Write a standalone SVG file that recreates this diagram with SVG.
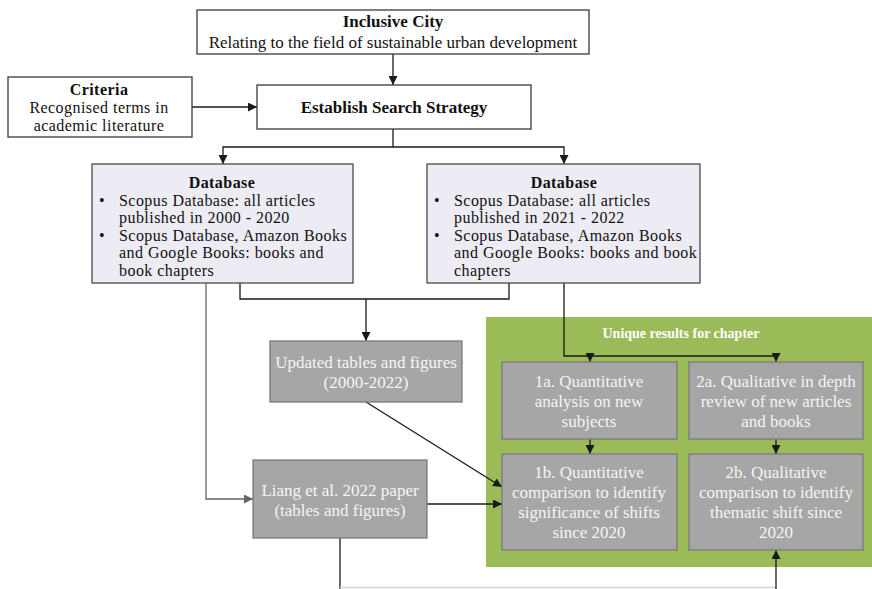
<svg xmlns="http://www.w3.org/2000/svg" width="872" height="589" viewBox="0 0 872 589">
<defs>
<marker id="ah" markerUnits="userSpaceOnUse" markerWidth="10" markerHeight="9" refX="9" refY="4.5" orient="auto"><path d="M0,0 L9,4.5 L0,9 z" fill="#1a1a1a"/></marker>
<marker id="ahg" markerUnits="userSpaceOnUse" markerWidth="10" markerHeight="9" refX="9" refY="4.5" orient="auto"><path d="M0,0 L9,4.5 L0,9 z" fill="#666"/></marker>
<style>
text{font-family:"Liberation Serif","Times New Roman",serif;}
.w{fill:#fff;stroke:#3a3a3a;stroke-width:1.3;}
.db{fill:#EDEBF3;stroke:#4a4a4a;stroke-width:1.3;}
.g{fill:#A6A6A6;stroke:#7a7a7a;stroke-width:1.3;}
.t{font-size:16px;fill:#111;letter-spacing:0.45px;}
.h{font-size:17px;letter-spacing:0;}
.b{font-weight:bold;}
.c{text-anchor:middle;}
.gt{font-size:17px;fill:#F5F5F5;text-anchor:middle;}
.ln{fill:none;stroke:#1a1a1a;stroke-width:1.3;}
.lg{fill:none;stroke:#666;stroke-width:1.3;}
</style>
</defs>
<rect x="0" y="0" width="872" height="589" fill="#fff"/>
<rect id="green" x="486" y="317" width="386" height="250" fill="#9BBB59"/>
<text x="681" y="338" class="b c" style="font-size:14px;fill:#fff">Unique results for chapter</text>

<g id="connectors">
<path class="ln" d="M393,54 V85" marker-end="url(#ah)"/>
<path class="ln" d="M192,107 H257" marker-end="url(#ah)"/>
<path class="ln" d="M393,129 V147 H223 V164"  marker-end="url(#ah)"/>
<path class="ln" d="M393,147 H564 V164" marker-end="url(#ah)"/>
<path class="lg" d="M206,283 V499 H253" marker-end="url(#ahg)"/>
<path class="ln" d="M240,283 V299 H509 V283"/>
<path class="ln" d="M366,299 V341" marker-end="url(#ah)"/>
<path class="ln" d="M564,283 V356 H590 V362" marker-end="url(#ah)"/>
<path class="ln" d="M590,356 H776 V362" marker-end="url(#ah)"/>
<path class="ln" d="M590,439 V454" marker-end="url(#ah)"/>
<path class="ln" d="M776,439 V454" marker-end="url(#ah)"/>
<path class="ln" d="M366,402 L502,487" marker-end="url(#ah)"/>
<path class="ln" d="M427,504 H502" marker-end="url(#ah)"/>
<path class="ln" d="M340,538 V589"/>
<path fill="none" stroke="#d4d4d4" stroke-width="1.5" d="M340,587.5 H776"/>
<path class="ln" d="M776,589 V550" marker-end="url(#ah)"/>
</g>

<g id="inclusive">
<rect class="w" x="197" y="10" width="392" height="44"/>
<text x="393" y="27" class="t h b c">Inclusive City</text>
<text x="393" y="48" class="t h c">Relating to the field of sustainable urban development</text>
</g>

<g id="criteria">
<rect class="w" x="8" y="77" width="184" height="60"/>
<text x="99" y="95" class="t b c">Criteria</text>
<text x="99" y="113" class="t c">Recognised terms in</text>
<text x="99" y="131" class="t c">academic literature</text>
</g>

<g id="establish">
<rect class="w" x="257" y="85" width="274" height="44"/>
<text x="394" y="113" class="t h b c">Establish Search Strategy</text>
</g>

<g id="db1">
<rect class="db" x="92" y="164" width="261" height="119"/>
<text x="222" y="188" class="t b c">Database</text>
<text x="102" y="205.6" class="t c">•</text>
<text x="119" y="205.6" class="t">Scopus Database: all articles</text>
<text x="119" y="223.2" class="t">published in 2000 - 2020</text>
<text x="102" y="240.8" class="t c">•</text>
<text x="119" y="240.8" class="t">Scopus Database, Amazon Books</text>
<text x="119" y="258.4" class="t">and Google Books: books and</text>
<text x="119" y="276" class="t">book chapters</text>
</g>

<g id="db2">
<rect class="db" x="427" y="164" width="273" height="119"/>
<text x="564" y="188" class="t b c">Database</text>
<text x="437" y="205.6" class="t c">•</text>
<text x="454" y="205.6" class="t">Scopus Database: all articles</text>
<text x="454" y="223.2" class="t">published in 2021 - 2022</text>
<text x="437" y="240.8" class="t c">•</text>
<text x="454" y="240.8" class="t">Scopus Database, Amazon Books</text>
<text x="454" y="258.4" class="t">and Google Books: books and book</text>
<text x="454" y="276" class="t">chapters</text>
</g>

<g id="updated">
<rect class="g" x="270" y="341" width="192" height="61"/>
<text x="366" y="368" class="gt">Updated tables and figures</text>
<text x="366" y="388" class="gt">(2000-2022)</text>
</g>

<g id="liang">
<rect class="g" x="253" y="460" width="174" height="78"/>
<text x="340" y="496" class="gt">Liang et al. 2022 paper</text>
<text x="340" y="516" class="gt">(tables and figures)</text>
</g>

<g id="n1a">
<rect class="g" x="502" y="362" width="175" height="77"/>
<text x="589" y="387" class="gt">1a. Quantitative</text>
<text x="589" y="407" class="gt">analysis on new</text>
<text x="589" y="427" class="gt">subjects</text>
</g>

<g id="n2a">
<rect class="g" x="689" y="362" width="174" height="77"/>
<text x="776" y="387" class="gt">2a. Qualitative in depth</text>
<text x="776" y="407" class="gt">review of new articles</text>
<text x="776" y="427" class="gt">and books</text>
</g>

<g id="n1b">
<rect class="g" x="502" y="454" width="175" height="96"/>
<text x="589" y="478" class="gt">1b. Quantitative</text>
<text x="589" y="498" class="gt">comparison to identify</text>
<text x="589" y="518" class="gt">significance of shifts</text>
<text x="589" y="538" class="gt">since 2020</text>
</g>

<g id="n2b">
<rect class="g" x="689" y="454" width="174" height="96"/>
<text x="776" y="478" class="gt">2b. Qualitative</text>
<text x="776" y="498" class="gt">comparison to identify</text>
<text x="776" y="518" class="gt">thematic shift since</text>
<text x="776" y="538" class="gt">2020</text>
</g>
</svg>
